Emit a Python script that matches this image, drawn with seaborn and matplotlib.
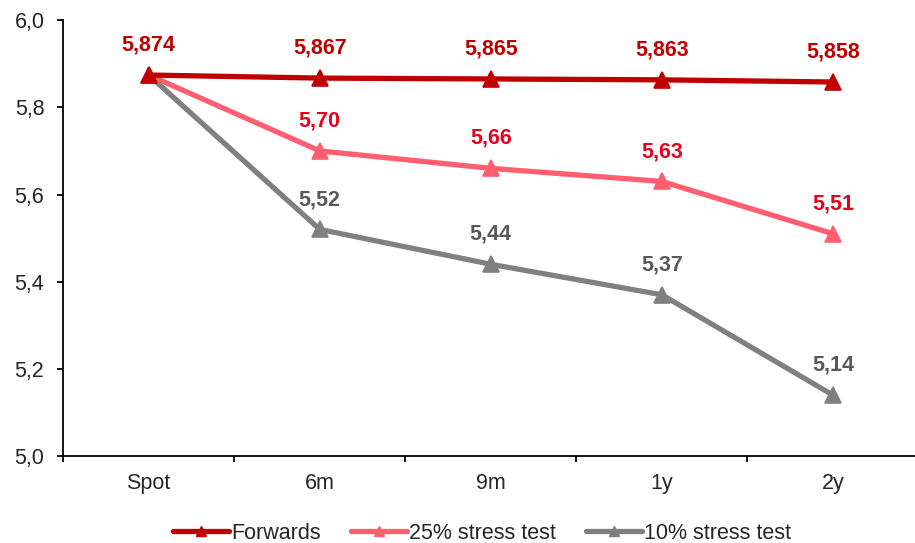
import matplotlib
matplotlib.use("Agg")
import matplotlib.pyplot as plt
import seaborn as sns
import pandas as pd
from matplotlib.lines import Line2D

sns.set_style("white")
plt.rcParams["font.family"] = ["Liberation Sans", "DejaVu Sans"]

tenors = ["Spot", "6m", "9m", "1y", "2y"]
forwards = [5.874, 5.867, 5.865, 5.863, 5.858]
stress_25 = [5.874, 5.70, 5.66, 5.63, 5.51]
stress_10 = [5.874, 5.52, 5.44, 5.37, 5.14]
y_ticks = [5.0, 5.2, 5.4, 5.6, 5.8, 6.0]

FS = 15.5

series = [
    ("10% stress test", stress_10, "#808080", "#595959", 2),
    ("25% stress test", stress_25, "#FF5F6E", "#E8001C", 2),
    ("Forwards", forwards, "#C00000", "#C00000", 3),
]

fig = plt.figure(figsize=(9.15, 5.43), dpi=100)
ax = fig.add_axes([0.069, 0.160, 0.931, 0.803])

for name, vals, color, lcolor, dec in series:
    df = pd.DataFrame({"x": range(len(tenors)), "y": vals})
    sns.lineplot(data=df, x="x", y="y", ax=ax, color=color, linewidth=3.8,
                 marker="^", markersize=11, markeredgecolor=color,
                 markeredgewidth=1.2, legend=False, zorder=3)
    start = 0 if name == "Forwards" else 1
    for i in range(start, len(vals)):
        txt = f"{vals[i]:.{dec}f}".replace(".", ",")
        ax.annotate(txt, (i, vals[i]), xytext=(0, 21.5), textcoords="offset points",
                    ha="center", va="center", fontsize=FS, fontweight="bold",
                    color=lcolor)

ax.set_xlim(-0.5, 4.48)
ax.set_ylim(5.0, 6.0)
ax.set_yticks(y_ticks)
ax.set_yticklabels([f"{v:.1f}".replace(".", ",") for v in y_ticks], fontsize=FS)
ax.set_xticks(range(len(tenors)))
ax.set_xticklabels(tenors, fontsize=FS)
ax.set_xticks([i - 0.5 for i in range(len(tenors))], minor=True)
ax.tick_params(axis="x", which="major", bottom=True, length=0, pad=12)
ax.tick_params(axis="x", which="minor", bottom=True, length=4.5, width=1.3,
               color="black", direction="out")
ax.tick_params(axis="y", left=True, length=4.5, width=1.3, color="black",
               direction="out", pad=9)
ax.set_xlabel("")
ax.set_ylabel("")
for side in ["top", "right"]:
    ax.spines[side].set_visible(False)
for side in ["left", "bottom"]:
    ax.spines[side].set_color("black")
    ax.spines[side].set_linewidth(1.3)

handles = [Line2D([0], [0], color=c, linewidth=3.8, marker="^", markersize=7,
                  markeredgecolor=c) for _, _, c, _, _ in series[::-1]]
labels = [n for n, _, _, _, _ in series[::-1]]
fig.legend(handles, labels, loc="lower center", bbox_to_anchor=(0.527, -0.009),
           ncol=3, frameon=False, fontsize=FS, handlelength=2.6,
           handletextpad=0.1, columnspacing=1.4, borderaxespad=0.1,
           borderpad=0.1)

fig.savefig("out.png", dpi=100)
